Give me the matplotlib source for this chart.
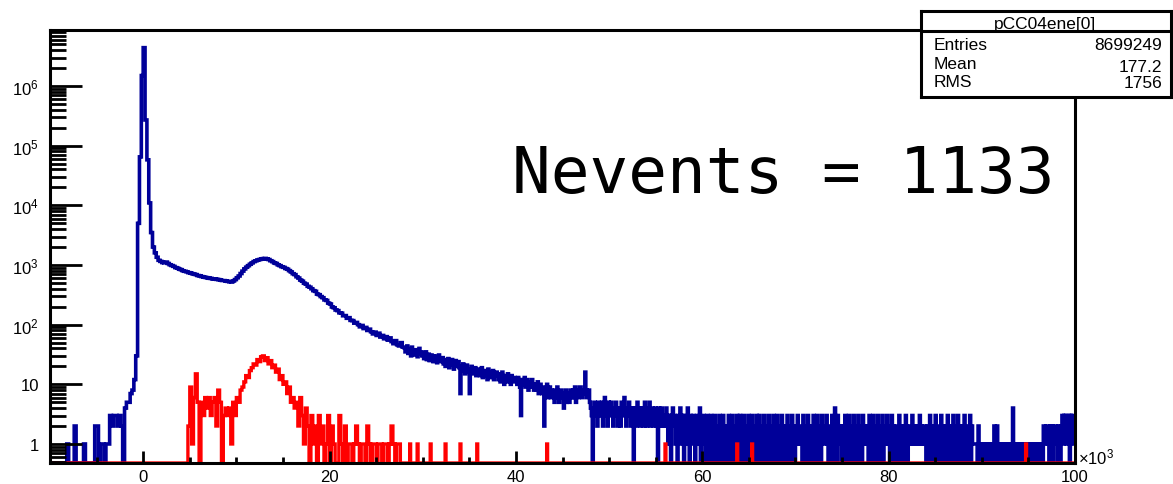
import numpy as np
import matplotlib.pyplot as plt
from matplotlib.ticker import FixedLocator, FixedFormatter, LogLocator, MultipleLocator, NullFormatter

plt.rcParams['font.family'] = ['Liberation Sans', 'DejaVu Sans']
plt.rcParams['mathtext.fontset'] = 'custom'
plt.rcParams['mathtext.rm'] = 'Liberation Sans'

# x in units of 10^3; 0.2 wide bins up to 28, 0.1 wide bins above (noisy tail)
x_min, x_split, x_max = -10.0, 28.0, 100.0
n_coarse, n_fine = 190, 720

# blue histogram (all events)
# -10.0 .. -2.2 (step 0.2)
blue_left = [0, 0, 0, 0, 0, 0, 0, 0, 0, 1,
             0, 0, 0, 2, 0, 0, 0, 0, 1, 0,
             0, 0, 0, 0, 2, 2, 0, 1, 1, 0,
             1, 1, 3, 2, 3, 3, 2, 3, 2, 0]
# -2.0 .. 27.8 (step 0.2)
blue_core = [4, 5, 5, 7, 8, 12, 30, 5000, 65000, 1500000, 4400000, 270000, 58000, 11000, 3500, 2000, 1600, 1350, 1200, 1150, 1100, 1090, 1120, 1060, 1010,
             980, 950, 905, 885, 850, 835, 800, 785, 770, 745, 740, 715, 700, 690, 665, 660, 640, 625, 620, 612, 600, 596, 585, 582, 575,
             570, 562, 550, 548, 538, 532, 525, 518, 540, 570, 612, 655, 720, 790, 860, 918, 975, 1030, 1085, 1140, 1175, 1215, 1235, 1262, 1280,
             1290, 1265, 1235, 1180, 1140, 1085, 1060, 1005, 975, 935, 915, 875, 850, 805, 765, 715, 690, 635, 605, 560, 535, 495, 478, 440, 425,
             400, 372, 362, 325, 318, 296, 283, 260, 255, 230, 222, 198, 192, 176, 172, 158, 156, 141, 142, 128, 131, 118, 117, 106, 109,
             100, 92, 97, 86, 90, 80, 84, 76, 70, 75, 66, 72, 62, 66, 58, 63, 55, 60, 52, 48, 54, 46, 44, 50, 42]
# 28.0 .. 47.9 (step 0.1)
blue_mid = [41, 35, 38, 44, 33, 39, 36, 30, 42, 37, 35, 31, 38, 34, 29, 36, 40, 32, 35, 30,
            33, 27, 30, 35, 26, 29, 32, 25, 28, 31, 27, 24, 30, 26, 29, 23, 28, 31, 25, 27,
            24, 28, 22, 26, 20, 25, 23, 27, 19, 24, 22, 26, 21, 18, 23, 25, 20, 22, 24, 19,
            7, 20, 17, 22, 18, 15, 19, 21, 16, 18, 7, 17, 20, 15, 18, 16, 19, 14, 17, 15,
            18, 14, 16, 19, 13, 15, 17, 14, 16, 12, 18, 15, 13, 16, 14, 17, 12, 15, 14, 16,
            14, 12, 15, 11, 13, 16, 12, 10, 14, 13, 11, 15, 12, 13, 10, 14, 12, 11, 13, 12,
            12, 10, 13, 11, 9, 3, 12, 11, 10, 13, 9, 11, 12, 8, 10, 11, 9, 12, 10, 8,
            9, 10, 8, 11, 7, 9, 10, 8, 7, 9, 2, 8, 7, 10, 6, 8, 9, 6, 8, 7,
            7, 5, 8, 6, 9, 7, 5, 6, 8, 7, 6, 4, 7, 8, 5, 7, 6, 5, 8, 6,
            7, 8, 6, 9, 5, 7, 8, 6, 9, 7, 8, 6, 7, 9, 16, 8, 6, 7, 8, 5]
# 48.0 .. 99.9 (step 0.1), one row per unit
blue_tail = [4, 3, 0, 4, 5, 3, 4, 2, 5, 3,
             4, 3, 5, 2, 4, 6, 3, 4, 2, 5,
             3, 4, 5, 3, 2, 4, 3, 5, 4, 2,
             4, 3, 2, 5, 3, 4, 6, 3, 2, 4,
             3, 5, 4, 2, 3, 4, 0, 3, 4, 2,
             5, 3, 4, 2, 3, 4, 3, 2, 5, 3,
             2, 4, 3, 5, 2, 3, 4, 2, 3, 4,
             3, 2, 0, 4, 3, 2, 4, 3, 2, 3,
             2, 4, 3, 1, 3, 2, 0, 3, 4, 2,
             3, 1, 2, 0, 3, 2, 4, 1, 3, 2,
             0, 3, 2, 1, 4, 2, 0, 3, 2, 1,
             3, 2, 0, 2, 3, 1, 2, 4, 0, 2,
             1, 3, 2, 0, 2, 3, 1, 0, 2, 3,
             2, 0, 1, 3, 2, 0, 2, 1, 3, 0,
             2, 1, 3, 0, 2, 2, 1, 0, 3, 1,
             0, 2, 3, 1, 0, 2, 1, 3, 0, 2,
             3, 1, 0, 2, 3, 0, 1, 2, 0, 3,
             1, 2, 0, 3, 2, 1, 0, 2, 3, 0,
             2, 3, 1, 0, 2, 1, 3, 0, 2, 1,
             0, 3, 2, 1, 0, 2, 3, 1, 0, 2,
             3, 0, 1, 2, 0, 3, 1, 2, 0, 1,
             2, 3, 0, 1, 2, 0, 3, 2, 1, 0,
             2, 1, 3, 1, 2, 2, 1, 0, 3, 2,
             0, 2, 1, 3, 0, 2, 1, 0, 2, 3,
             1, 0, 2, 3, 0, 1, 2, 0, 3, 1,
             1, 2, 2, 3, 1, 0, 2, 1, 0, 3,
             0, 2, 4, 1, 0, 3, 2, 1, 2, 0,
             2, 1, 0, 3, 2, 0, 1, 3, 0, 2,
             1, 0, 3, 2, 1, 0, 2, 3, 0, 1,
             2, 0, 3, 1, 2, 2, 1, 2, 0, 3,
             1, 0, 2, 3, 0, 1, 2, 0, 3, 1,
             0, 2, 1, 3, 0, 2, 1, 2, 3, 1,
             2, 0, 1, 3, 0, 2, 1, 0, 2, 1,
             0, 3, 1, 2, 0, 1, 2, 0, 3, 2,
             0, 1, 2, 1, 1, 3, 1, 2, 1, 1,
             2, 1, 1, 3, 1, 2, 1, 1, 2, 1,
             0, 2, 1, 0, 3, 1, 0, 2, 1, 0,
             3, 1, 0, 2, 1, 0, 3, 2, 0, 1,
             2, 0, 1, 3, 0, 2, 1, 0, 2, 3,
             0, 1, 2, 0, 3, 1, 0, 2, 1, 0,
             2, 3, 0, 1, 2, 0, 1, 3, 0, 2,
             1, 1, 1, 1, 1, 0, 2, 1, 0, 1,
             1, 0, 1, 1, 0, 1, 0, 1, 1, 0,
             1, 0, 1, 2, 1, 0, 2, 1, 0, 1,
             0, 1, 1, 0, 1, 0, 1, 1, 0, 1,
             1, 0, 1, 4, 1, 0, 1, 1, 0, 1,
             0, 1, 1, 0, 1, 0, 1, 0, 1, 1,
             0, 1, 0, 1, 1, 0, 1, 1, 0, 1,
             1, 0, 1, 0, 1, 0, 2, 2, 1, 2,
             2, 1, 0, 2, 1, 2, 0, 1, 2, 2,
             1, 0, 2, 1, 0, 2, 3, 1, 3, 2,
             3, 1, 2, 3, 0, 3, 2, 3, 1, 2]

# red histogram (selected events)
red_start = 4.8  # 4.8 .. 27.6, step 0.2
red_core = [2, 9, 1, 6, 15, 5, 0, 5, 3, 6, 4, 6, 3, 5, 6, 2, 8, 5, 0, 3,
            4, 3, 4, 1, 5, 3, 6, 5, 8, 9, 11, 14, 13, 17, 19, 22, 21, 26, 24, 29,
            30, 25, 28, 22, 25, 19, 21, 16, 18, 12, 14, 10, 11, 7, 9, 5, 6, 4, 5, 2,
            6, 3, 1, 4, 2, 0, 3, 1, 2, 0, 3, 1, 2, 0, 1, 3, 0, 2, 1, 0,
            0, 3, 1, 0, 2, 0, 1, 1, 0, 1, 2, 1, 0, 1, 1, 0, 2, 1, 0, 1,
            1, 0, 1, 1, 0, 1, 1, 0, 1, 2, 1, 0, 1, 1, 0]
red_spike_x = [28.6, 29.4, 30.8, 32.4, 34.0, 35.8, 43.3, 56.0, 63.7, 65.3, 94.7]
red_spike_n = [1, 1, 1, 1, 1, 1, 1, 1, 1, 1, 1]

y_lo, y_hi = 0.48, 8.7e6

edges = np.concatenate([np.linspace(x_min, x_split, n_coarse + 1),
                        np.linspace(x_split, x_max, n_fine + 1)[1:]])
blue = np.array(blue_left + blue_core + blue_mid + blue_tail, dtype=float)
red = np.zeros(len(edges) - 1)
i0 = np.searchsorted(edges, red_start + 1e-6) - 1
red[i0:i0 + len(red_core)] = red_core
for x, n in zip(red_spike_x, red_spike_n):
    red[np.searchsorted(edges, x + 1e-6) - 1] = n

W, H = 1173, 485
fig = plt.figure(figsize=(W / 100, H / 100), dpi=100)
ax = fig.add_axes([50 / W, 1 - 464 / H, (1075 - 50) / W, (464 - 31) / H])

# empty bins are drawn on the frame bottom, like ROOT does
ax.stairs(np.where(blue > 0, blue, y_lo), edges, baseline=None,
          color='#000099', linewidth=2.6, clip_on=False)
ax.stairs(np.where(red > 0, red, y_lo), edges, baseline=None,
          color='#ff0000', linewidth=2.4, clip_on=False)

ax.set_yscale('log')
ax.set_xlim(x_min, x_max)
ax.set_ylim(y_lo, y_hi)

ax.xaxis.set_major_locator(MultipleLocator(20))
ax.xaxis.set_minor_locator(MultipleLocator(5))
ax.tick_params(axis='x', which='major', direction='in', length=8.6, width=2,
               labelsize=12, pad=4, top=False)
ax.tick_params(axis='x', which='minor', direction='in', length=4.3, width=2, top=False)

decades = [1, 10, 1e2, 1e3, 1e4, 1e5, 1e6]
dec_labels = ['1', '10'] + [r'$\mathregular{10^{%d}}$' % k for k in range(2, 7)]
ax.yaxis.set_major_locator(FixedLocator(decades))
ax.yaxis.set_major_formatter(FixedFormatter(dec_labels))
ax.yaxis.set_minor_locator(LogLocator(base=10, subs=np.arange(2, 10), numticks=30))
ax.yaxis.set_minor_formatter(NullFormatter())
ax.tick_params(axis='y', which='major', direction='in', length=23, width=2,
               labelsize=12, pad=8, right=False)
ax.tick_params(axis='y', which='minor', direction='in', length=11.5, width=2, right=False)

for s in ax.spines.values():
    s.set_linewidth(2.2)

ax.text(1.003, 0.016, r'$\mathregular{\times 10^{3}}$', transform=ax.transAxes,
        fontsize=12, ha='left', va='center')

fig.text(512 / W, 1 - 193 / H, 'Nevents = 1133', family='DejaVu Sans Mono',
         fontsize=46.4, va='baseline', ha='left')

# stats box, pixel coordinates
bx = fig.add_axes([921 / W, 1 - 98 / H, (1171 - 921) / W, (98 - 12) / H])
bx.set_xlim(921, 1171)
bx.set_ylim(98, 12)
bx.set_xticks([])
bx.set_yticks([])
for s in bx.spines.values():
    s.set_linewidth(2.2)
bx.axhline(32, color='black', linewidth=2.2)
fs = 12.5
bx.text(1045, 29.5, 'pCC04ene[0]', ha='center', va='baseline', fontsize=fs)
bx.text(934, 50, 'Entries', ha='left', va='baseline', fontsize=fs)
bx.text(1162, 50, '8699249', ha='right', va='baseline', fontsize=fs)
bx.text(934, 69, 'Mean', ha='left', va='baseline', fontsize=fs)
bx.text(1162, 72, '177.2', ha='right', va='baseline', fontsize=fs)
bx.text(934, 87, 'RMS', ha='left', va='baseline', fontsize=fs)
bx.text(1162, 88.5, '1756', ha='right', va='baseline', fontsize=fs)

fig.savefig('out.png', dpi=100)
